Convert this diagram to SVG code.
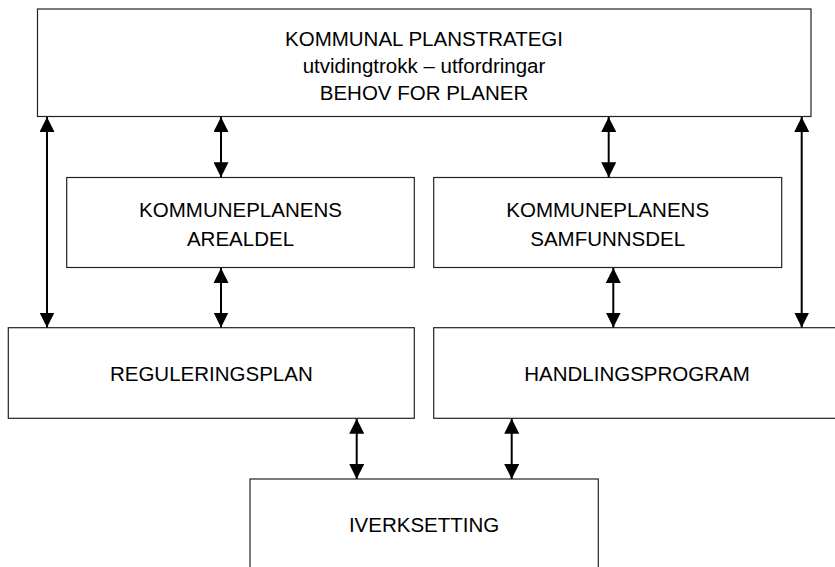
<svg xmlns="http://www.w3.org/2000/svg" width="835" height="567" viewBox="0 0 835 567">
<style>
.box{fill:#fff;stroke:#222;stroke-width:1.2}
.t{font-family:"Liberation Sans",Arial,sans-serif;font-size:20.5px;fill:#000;text-anchor:middle}
.c{stroke:#000;stroke-width:2;fill:none;marker-start:url(#ah);marker-end:url(#ah)}
</style>
<defs>
<marker id="ah" markerUnits="userSpaceOnUse" markerWidth="15" markerHeight="15" refX="15" refY="7.5" orient="auto-start-reverse" viewBox="0 0 15 15">
<path d="M0,0 L15,7.5 L0,15 z" fill="#000"/>
</marker>
</defs>
<rect width="835" height="567" fill="#fff"/>
<g id="planstrategi">
<rect class="box" x="37.5" y="9" width="773.5" height="107.5"/>
<text class="t" x="424" y="46">KOMMUNAL PLANSTRATEGI</text>
<text class="t" x="424" y="73.3">utvidingtrokk – utfordringar</text>
<text class="t" x="424" y="100">BEHOV FOR PLANER</text>
</g>
<g id="arealdel">
<rect class="box" x="66.7" y="177.5" width="347.6" height="90"/>
<text class="t" x="240.5" y="216.8">KOMMUNEPLANENS</text>
<text class="t" x="240.5" y="246">AREALDEL</text>
</g>
<g id="samfunnsdel">
<rect class="box" x="433.7" y="177.5" width="348" height="90"/>
<text class="t" x="607.7" y="216.8">KOMMUNEPLANENS</text>
<text class="t" x="607.7" y="246">SAMFUNNSDEL</text>
</g>
<g id="reguleringsplan">
<rect class="box" x="8.3" y="327.7" width="406" height="90.6"/>
<text class="t" x="211.3" y="381">REGULERINGSPLAN</text>
</g>
<g id="handlingsprogram">
<rect class="box" x="433.7" y="327.7" width="406.3" height="90.6"/>
<text class="t" x="637" y="381">HANDLINGSPROGRAM</text>
</g>
<g id="iverksetting">
<rect class="box" x="250" y="479" width="348.3" height="100"/>
<text class="t" x="424.1" y="532.3">IVERKSETTING</text>
</g>
<g id="connectors">
<line class="c" x1="47" y1="117" x2="47" y2="327.5"/>
<line class="c" x1="801.7" y1="117" x2="801.7" y2="327.5"/>
<line class="c" x1="221" y1="117" x2="221" y2="177.3"/>
<line class="c" x1="608.7" y1="117" x2="608.7" y2="177.3"/>
<line class="c" x1="221" y1="268" x2="221" y2="327.5"/>
<line class="c" x1="613.3" y1="268" x2="613.3" y2="327.5"/>
<line class="c" x1="356.7" y1="418.7" x2="356.7" y2="479"/>
<line class="c" x1="511.7" y1="418.7" x2="511.7" y2="479"/>
</g>
</svg>
